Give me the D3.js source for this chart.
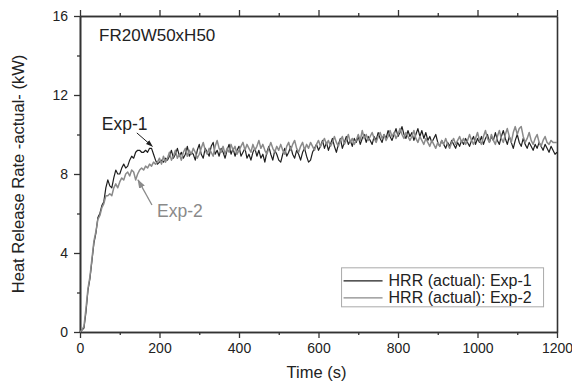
<!DOCTYPE html>
<html>
<head>
<meta charset="utf-8">
<script src="https://cdn.jsdelivr.net/npm/d3@7"></script>
<style>
  body { margin: 0; background: #fff; }
  text { font-family: "Liberation Sans", Arial, sans-serif; fill: #222; }
</style>
</head>
<body>
<div id="chart"></div>
<script>
// sampling every 5 s, 0..1200
const timeStep = 5;

// HRR Exp-1 (kW), black
const hrrExp1 = [
  0.0,
  0.1, 0.2, 1.0, 2.1, 2.7, 3.6, 4.5, 5.0, 5.8, 6.0, 6.4, 6.6, 7.3, 7.7, 7.4, 7.3, 7.8, 8.2, 8.0, 8.0,
  8.3, 8.5, 8.3, 8.4, 8.7, 8.9, 8.8, 9.1, 9.2, 9.2, 9.1, 9.1, 9.2, 9.1, 9.3, 9.3, 9.0, 8.7, 8.5, 8.6,
  8.7, 8.6, 8.8, 8.7, 8.9, 9.2, 8.8, 9.0, 9.3, 8.9, 9.1, 8.8, 9.0, 9.4, 8.9, 9.1, 9.0, 8.7, 9.2, 9.5,
  9.0, 8.8, 9.3, 9.1, 8.9, 9.4, 9.6, 9.0, 9.2, 8.9, 9.3, 9.1, 8.8, 9.2, 9.5, 9.0, 9.3, 8.9, 9.2, 9.4,
  8.9, 9.1, 9.3, 8.8, 9.0, 8.7, 9.1, 9.3, 8.9, 9.2, 8.8, 9.0, 8.6, 9.1, 9.4, 9.0, 8.7, 9.2, 9.0, 8.7,
  8.6, 9.0, 9.3, 8.9, 9.1, 9.4, 9.0, 8.8, 9.2, 9.0, 8.7, 9.1, 9.3, 8.9, 8.6, 8.7, 9.1, 9.3, 9.5, 9.2,
  9.4, 9.7, 9.3, 9.6, 9.2, 9.5, 9.8, 9.4, 9.1, 9.5, 9.8, 9.3, 9.6, 9.9, 9.5, 9.7, 9.4, 9.8, 9.6, 9.9,
  9.5, 9.8, 10.0, 9.6, 9.9, 9.7, 9.5, 9.9, 9.7, 10.1, 9.8, 9.6, 10.0, 9.8, 10.2, 9.9, 9.7, 10.0, 10.3, 9.9,
  10.1, 10.4, 10.0, 9.8, 10.2, 9.9, 10.1, 9.7, 10.0, 10.3, 9.9, 10.2, 9.8, 10.1, 9.7, 9.9, 9.6, 9.8, 10.0, 9.6,
  9.4, 9.7, 9.5, 9.3, 9.6, 9.4, 9.7, 9.5, 9.3, 9.6, 9.4, 9.7, 9.5, 9.8, 9.6, 9.4, 9.7, 9.9, 9.5, 9.8,
  9.6, 9.9, 9.5, 9.8, 10.0, 9.6, 9.9, 9.7, 10.1, 9.7, 9.5, 9.9, 10.2, 9.8, 9.5, 9.9, 9.6, 9.3, 9.7, 10.0,
  9.6, 9.4, 9.8, 9.5, 9.3, 9.6, 9.4, 9.2, 9.5, 9.3, 9.6, 9.4, 9.2, 9.5, 9.3, 9.1, 9.4, 9.2, 9.0, 9.1
];

// HRR Exp-2 (kW), grey
const hrrExp2 = [
  0.0,
  0.1, 0.3, 1.2, 2.2, 2.8, 3.7, 4.6, 5.1, 5.7, 5.9, 6.3, 6.5, 6.9, 6.9, 7.0, 6.9, 7.3, 7.5, 7.3, 7.6,
  7.8, 7.7, 8.0, 8.1, 7.9, 8.2, 8.1, 7.7, 8.0, 8.2, 8.3, 8.2, 8.4, 8.3, 8.5, 8.4, 8.6, 8.5, 8.6, 8.8,
  8.5, 8.9, 8.6, 8.8, 9.1, 8.7, 8.9, 9.2, 8.8, 9.0, 8.7, 9.1, 9.3, 8.9, 9.2, 9.0, 9.3, 9.1, 8.8, 9.0,
  9.3, 9.6, 9.2, 9.0, 9.3, 9.1, 8.9, 9.4, 9.7, 9.3, 9.1, 9.4, 9.0, 9.3, 9.1, 9.5, 9.2, 9.4, 9.0, 9.2,
  9.4, 9.6, 9.2, 9.5, 9.3, 9.1, 9.5, 9.2, 9.4, 9.7, 9.3, 9.5, 9.2, 9.0, 9.3, 9.6, 9.3, 9.1, 9.4, 9.2,
  9.5, 9.2, 9.0, 9.4, 9.6, 9.2, 9.5, 9.7, 9.3, 9.1, 9.4, 9.6, 9.2, 9.5, 9.3, 9.6, 9.4, 9.2, 9.5, 9.7,
  9.4, 9.6, 9.8, 9.5, 9.7, 9.4, 9.6, 9.9, 9.6, 9.4, 9.7, 9.9, 9.5, 9.7, 10.0, 9.6, 9.8, 9.5, 9.7, 10.0,
  9.7, 10.2, 9.8, 10.0, 9.7, 9.9, 10.1, 9.8, 9.6, 9.9, 10.1, 9.8, 10.0, 9.7, 9.9, 10.2, 9.9, 10.1, 9.8, 10.0,
  10.3, 10.0, 9.8, 10.1, 9.9, 9.7, 9.9, 10.2, 9.8, 9.6, 9.9, 9.7, 9.5, 9.8, 9.6, 9.4, 9.7, 9.5, 9.3, 9.6,
  9.4, 9.7, 9.5, 9.8, 9.5, 9.3, 9.6, 9.8, 9.5, 9.7, 9.9, 9.6, 9.8, 9.5, 9.7, 10.0, 9.7, 9.5, 9.8, 10.1,
  9.7, 9.5, 9.9, 10.2, 9.8, 9.6, 10.0, 9.7, 9.5, 9.9, 10.2, 9.8, 9.6, 10.0, 10.3, 9.9, 9.6, 10.1, 10.4, 10.0,
  10.3, 10.4, 9.9, 9.6, 9.8, 10.1, 9.7, 9.5, 9.8, 10.0, 9.6, 9.4, 9.7, 9.9, 9.6, 9.5, 9.7, 9.6, 9.6, 9.6
];

const xTicks = [0, 200, 400, 600, 800, 1000, 1200];
const xMinor = [100, 300, 500, 700, 900, 1100];
const yTicks = [0, 4, 8, 12, 16];
const yMinor = [2, 6, 10, 14];
const legendLabels = ["HRR (actual): Exp-1", "HRR (actual): Exp-2"];
const seriesColors = ["#1e1e1e", "#8a8a8a"];

const W = 572, H = 385;
const margin = {top: 16, right: 15, bottom: 53, left: 80};
const iw = W - margin.left - margin.right;
const ih = H - margin.top - margin.bottom;

const svg = d3.select("#chart").append("svg")
  .attr("width", W).attr("height", H);

const g = svg.append("g").attr("transform", `translate(${margin.left},${margin.top})`);

const x = d3.scaleLinear().domain([0, 1200]).range([0, iw]);
const y = d3.scaleLinear().domain([0, 16]).range([ih, 0]);

const axisColor = "#333";

function styleAxis(sel) {
  sel.selectAll(".domain").attr("stroke", axisColor).attr("stroke-width", 1.6);
  sel.selectAll(".tick line").attr("stroke", axisColor).attr("stroke-width", 1.3);
  sel.selectAll(".tick text").attr("fill", "#222").style("font-size", "14px")
    .style("font-family", "'Liberation Sans', Arial, sans-serif");
}

// minor ticks first
g.append("g").attr("transform", `translate(0,${ih})`)
  .call(d3.axisBottom(x).tickValues(xMinor).tickSize(3).tickSizeOuter(0).tickFormat(""))
  .call(styleAxis);
g.append("g")
  .call(d3.axisTop(x).tickValues(xMinor).tickSize(3).tickSizeOuter(0).tickFormat(""))
  .call(styleAxis);
g.append("g")
  .call(d3.axisLeft(y).tickValues(yMinor).tickSize(3).tickSizeOuter(0).tickFormat(""))
  .call(styleAxis);

// major
g.append("g").attr("transform", `translate(0,${ih})`)
  .call(d3.axisBottom(x).tickValues(xTicks).tickSize(6).tickSizeOuter(0).tickPadding(5).tickFormat(d3.format("d")))
  .call(styleAxis);
g.append("g")
  .call(d3.axisTop(x).tickValues(xTicks).tickSize(6).tickSizeOuter(0).tickFormat(""))
  .call(styleAxis);
g.append("g")
  .call(d3.axisLeft(y).tickValues(yTicks).tickSize(6).tickSizeOuter(0).tickPadding(6).tickFormat(d3.format("d")))
  .call(styleAxis);
g.append("g").attr("transform", `translate(${iw},0)`)
  .call(d3.axisRight(y).tickValues([]).tickSizeOuter(0))
  .call(styleAxis);

// lines
const line = d3.line()
  .x((d, i) => x(i * timeStep))
  .y(d => y(d));

[hrrExp1, hrrExp2].forEach((s, k) => {
  g.append("path")
    .datum(s)
    .attr("fill", "none")
    .attr("stroke", seriesColors[k])
    .attr("stroke-width", k === 0 ? 1.2 : 1.5)
    .attr("stroke-linejoin", "round")
    .attr("d", line);
});

// title
g.append("text")
  .attr("x", x(48)).attr("y", y(14.72))
  .style("font-size", "17px")
  .text("FR20W50xH50");

// annotations
const defs = svg.append("defs");
seriesColors.forEach((c, k) => {
  defs.append("marker")
    .attr("id", "arr" + k)
    .attr("viewBox", "0 0 10 10")
    .attr("refX", 9).attr("refY", 5)
    .attr("markerWidth", 7).attr("markerHeight", 7)
    .attr("orient", "auto")
    .append("path").attr("d", "M0,1.5L10,5L0,8.5Z").attr("fill", c);
});

g.append("text").attr("x", x(55)).attr("y", y(10.23))
  .style("font-size", "17.5px").attr("fill", seriesColors[0]).text("Exp-1");
g.append("line")
  .attr("x1", x(143)).attr("y1", y(10.08))
  .attr("x2", x(182)).attr("y2", y(9.4))
  .attr("stroke", seriesColors[0]).attr("stroke-width", 1)
  .attr("marker-end", "url(#arr0)");

g.append("text").attr("x", x(194)).attr("y", y(5.82))
  .style("font-size", "17.5px").style("fill", seriesColors[1]).text("Exp-2");
g.append("line")
  .attr("x1", x(181)).attr("y1", y(6.43))
  .attr("x2", x(146)).attr("y2", y(7.7))
  .attr("stroke", seriesColors[1]).attr("stroke-width", 1.3)
  .attr("marker-end", "url(#arr1)");

// legend
const lg = g.append("g").attr("transform", `translate(${x(658)},${y(3.25)})`);
lg.append("rect").attr("width", 202).attr("height", 39)
  .attr("fill", "#fff").attr("stroke", "#aaa").attr("stroke-width", 1);
legendLabels.forEach((t, k) => {
  const yy = 13 + k * 17;
  lg.append("line").attr("x1", 2).attr("x2", 41).attr("y1", yy).attr("y2", yy)
    .attr("stroke", seriesColors[k]).attr("stroke-width", 1.2);
  lg.append("text").attr("x", 47).attr("y", yy + 5.5)
    .style("font-size", "16px").text(t);
});

// axis titles
svg.append("text")
  .attr("x", margin.left + iw / 2 - 2).attr("y", 378)
  .attr("text-anchor", "middle")
  .style("font-size", "16.5px")
  .text("Time (s)");

svg.append("text")
  .attr("transform", `translate(24,${margin.top + ih / 2}) rotate(-90)`)
  .attr("text-anchor", "middle")
  .style("font-size", "16.5px")
  .text("Heat Release Rate -actual- (kW)");
</script>
</body>
</html>
